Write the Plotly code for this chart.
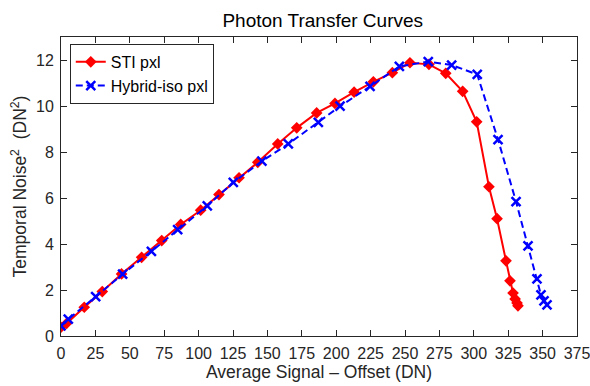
import plotly.graph_objects as go

# STI pxl (red, diamonds)
sti_x = [0, 4.1, 16.9, 30.0, 44.0, 58.6, 73.2, 87.0, 101.5, 114.8, 129.4, 143.0, 157.5, 171.3,
         185.8, 199.1, 213.0, 227.0, 240.8, 253.6, 267.4, 279.6, 291.9, 302.1, 311.0, 316.9,
         323.4, 326.3, 328.5, 330.0, 331.4, 332.1]
sti_y = [0.38, 0.55, 1.25, 1.93, 2.70, 3.42, 4.15, 4.85, 5.47, 6.15, 6.88, 7.55, 8.35, 9.05,
         9.70, 10.11, 10.60, 11.05, 11.45, 11.88, 11.81, 11.42, 10.64, 9.31, 6.49, 5.10,
         3.27, 2.40, 1.87, 1.61, 1.44, 1.31]

# Hybrid-iso pxl (blue, x markers, dashed)
hyb_x = [0, 5.3, 25.2, 44.8, 65.7, 84.8, 106.3, 125.2, 146.0, 165.2, 187.0, 202.8, 224.6,
         245.9, 266.9, 283.9, 302.5, 317.6, 330.7, 339.4, 345.9, 348.8, 351.0, 353.2]
hyb_y = [0.44, 0.73, 1.71, 2.69, 3.68, 4.62, 5.66, 6.68, 7.60, 8.35, 9.29, 9.99, 10.85,
         11.72, 11.93, 11.78, 11.37, 8.54, 5.84, 3.92, 2.48, 1.79, 1.53, 1.35]

x_ticks = list(range(0, 376, 25))
y_ticks = list(range(0, 13, 2))

FONT = "Liberation Sans, Arial, sans-serif"

fig = go.Figure()
fig.add_trace(go.Scatter(
    x=sti_x, y=sti_y, name="STI pxl", mode="lines+markers",
    line=dict(color="#ff0000", width=2),
    marker=dict(symbol="diamond", size=9, color="#ff0000"),
))
fig.add_trace(go.Scatter(
    x=hyb_x, y=hyb_y, name="Hybrid-iso pxl", mode="lines+markers",
    line=dict(color="#0000ff", width=2, dash="7px,4px"),
    marker=dict(symbol="x-thin", size=9, color="#0000ff",
                line=dict(color="#0000ff", width=2.5)),
))

axis_common = dict(
    showline=True, linecolor="#262626", linewidth=1, mirror="allticks",
    ticks="inside", ticklen=6, tickcolor="#262626", tickwidth=1.3,
    showgrid=False, zeroline=False, automargin=False,
    ticklabeloverflow="allow",
    tickfont=dict(family=FONT, size=16, color="#262626"),
)

fig.update_layout(
    width=590, height=386,
    margin=dict(l=61, r=13, t=37, b=50),
    paper_bgcolor="white", plot_bgcolor="white",
    font=dict(family=FONT, color="#262626"),
    title=dict(text="Photon Transfer Curves", x=0.547, xanchor="center", y=0.948, yanchor="middle",
               font=dict(family=FONT, size=19, color="black")),
    xaxis=dict(range=[0, 375], tickvals=x_ticks, ticktext=[str(v) for v in x_ticks],
               ticklabelstandoff=3,
               title=dict(text="Average Signal \u2013 Offset (DN)", standoff=2,
                          font=dict(family=FONT, size=17.5, color="#262626")),
               **axis_common),
    yaxis=dict(range=[0, 13], tickvals=y_ticks, ticktext=[str(v) for v in y_ticks],
               ticklabelstandoff=3,
               title=dict(text="Temporal Noise<sup>2</sup>  (DN<sup>2</sup>)", standoff=4,
                          font=dict(family=FONT, size=17.5, color="#262626")),
               **axis_common),
    legend=dict(x=0.017, y=0.977, xanchor="left", yanchor="top",
                bgcolor="white", bordercolor="#262626", borderwidth=1,
                font=dict(family=FONT, size=16, color="black"), tracegroupgap=0,
                itemwidth=30),
    showlegend=True,
)

# remove the page's default 8px body margin so the figure fills the window
fig.write_html("out.html", config={"displayModeBar": False},
               post_script="document.body.style.margin='0';")
